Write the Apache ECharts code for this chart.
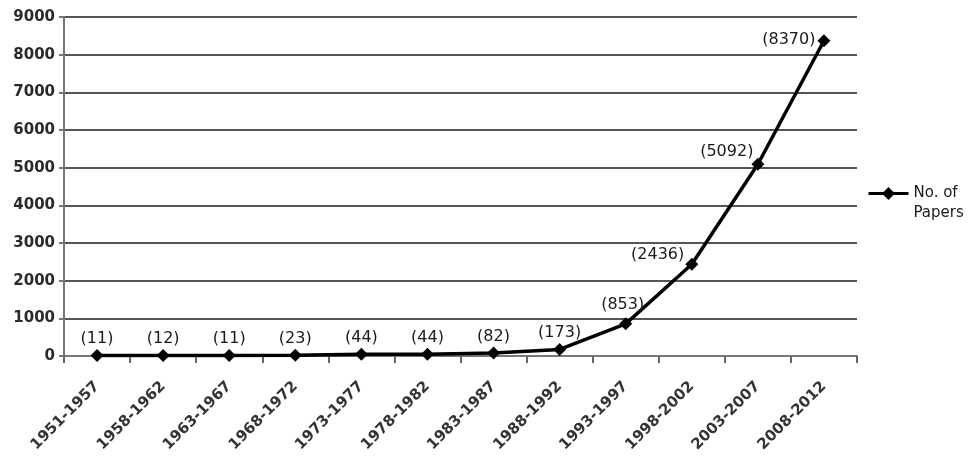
<!DOCTYPE html>
<html>
<head>
<meta charset="utf-8">
<script src="https://cdn.jsdelivr.net/npm/echarts@6/dist/echarts.min.js"></script>
<style>
  html, body { margin: 0; padding: 0; background: #fff; }
  #chart { width: 970px; height: 459px; }
</style>
</head>
<body>
<div id="chart"></div>
<script>
// Publication counts per period
const periods = ['1951-1957', '1958-1962', '1963-1967', '1968-1972', '1973-1977', '1978-1982',
  '1983-1987', '1988-1992', '1993-1997', '1998-2002', '2003-2007', '2008-2012'];
const papers = [11, 12, 11, 23, 44, 44, 82, 173, 853, 2436, 5092, 8370];
const seriesName = 'No. of Papers';

// Labels on the steep part of the curve sit to the (upper) left of the point
const labelPlacement = {
  8: { offset: [-3, -3] },
  9: { position: 'left', distance: 1, offset: [0, -9] },
  10: { position: 'left', distance: 0, offset: [2, -12] },
  11: { position: 'left', distance: 2, offset: [0, -1] }
};

const seriesData = papers.map((v, i) => {
  const item = { value: v };
  if (labelPlacement[i]) item.label = labelPlacement[i];
  return item;
});

const chart = echarts.init(document.getElementById('chart'));
chart.setOption({
  animation: false,
  backgroundColor: '#ffffff',
  textStyle: { fontFamily: 'DejaVu Sans' },
  grid: { left: 64, right: 113, top: 17, bottom: 103 },
  legend: {
    data: [seriesName],
    left: 862,
    top: 181,
    orient: 'vertical',
    itemWidth: 40,
    itemHeight: 16,
    itemGap: 4,
    lineStyle: { width: 3, color: '#000' },
    itemStyle: { color: '#000' },
    formatter: () => '{a|No. of}\n{b|Papers}',
    textStyle: {
      fontSize: 15,
      color: '#1a1a1a',
      padding: [20, 0, 0, 0],
      rich: {
        a: { fontSize: 15, color: '#1a1a1a', lineHeight: 20 },
        b: { fontSize: 15, color: '#1a1a1a', lineHeight: 20 }
      }
    }
  },
  xAxis: {
    type: 'category',
    data: periods,
    boundaryGap: true,
    axisLine: { show: true, lineStyle: { color: '#777', width: 2 } },
    axisTick: { show: true, length: 7, lineStyle: { color: '#666', width: 2 } },
    axisLabel: {
      rotate: 45,
      interval: 0,
      margin: 28,
      fontSize: 15,
      fontWeight: 'bold',
      color: '#333'
    },
    splitLine: { show: false }
  },
  yAxis: {
    type: 'value',
    min: 0,
    max: 9000,
    interval: 1000,
    axisLine: { show: true, lineStyle: { color: '#777', width: 2 } },
    axisTick: { show: true, length: 5, lineStyle: { color: '#777', width: 2 } },
    axisLabel: {
      fontSize: 15,
      fontWeight: 'bold',
      color: '#2a2a2a',
      margin: 9,
      formatter: v => String(v)
    },
    splitLine: { show: true, lineStyle: { color: '#555', width: 2 } }
  },
  series: [{
    name: seriesName,
    type: 'line',
    data: seriesData,
    symbol: 'diamond',
    symbolSize: 13,
    showAllSymbol: true,
    lineStyle: { color: '#000', width: 3.5 },
    itemStyle: { color: '#000' },
    label: {
      show: true,
      position: 'top',
      distance: 2,
      fontSize: 16,
      color: '#1a1a1a',
      formatter: p => '(' + p.value + ')'
    }
  }]
});
</script>
</body>
</html>
